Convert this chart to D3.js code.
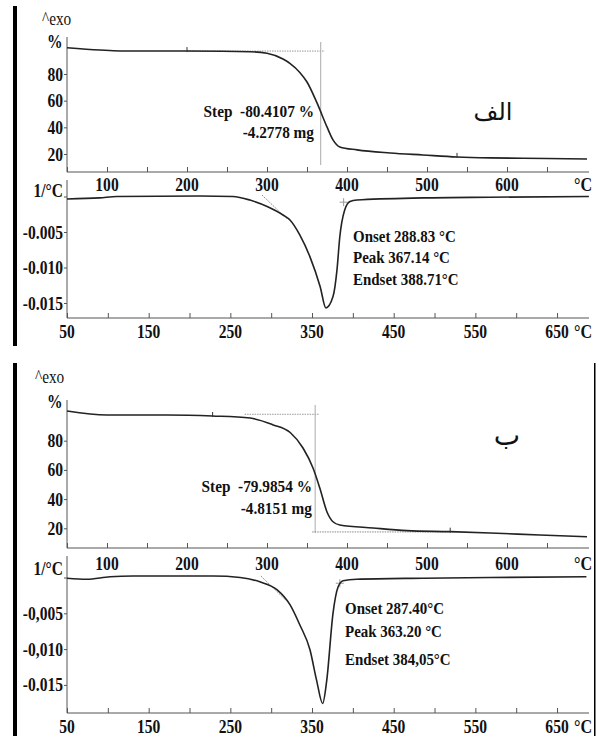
<!DOCTYPE html>
<html>
<head>
<meta charset="utf-8">
<script src="https://cdn.jsdelivr.net/npm/d3@7"></script>
<style>
  body { margin: 0; background: #fff; }
  svg { display: block; }
  text { font-family: "Liberation Serif", "Times New Roman", serif; fill: #111; white-space: pre; }
</style>
</head>
<body>
<div id="chart"></div>
<script>
// ---- data ----
// TGA curve, sample الف : temperature (°C) / mass (%)
var tgaTempA = [50, 91, 116, 200, 279, 300, 320, 329, 341, 350, 362.5, 375, 382.5, 391, 412.5, 454, 495, 537.5, 579, 620, 700];
var tgaMassA = [99.7, 98, 97.3, 97.2, 96.7, 95.5, 91.2, 87.8, 81.2, 74.0, 58.3, 40.3, 30.6, 25.3, 23.1, 20.8, 19.3, 17.8, 17.1, 16.8, 16.3];
// DTG curve, sample الف : temperature / 1/°C
var dtgTempA = [50, 90, 111, 213, 253, 274, 295, 314.5, 323, 335, 347.5, 360, 367, 375.7, 380.6, 384, 390, 396.5, 405, 486, 568, 689];
var dtgValA  = [-0.00035, -0.0002, 0, 0.00007, 0, -0.0005, -0.0014, -0.0026, -0.0033, -0.0054, -0.0085, -0.0127, -0.0157, -0.0141, -0.0103, -0.0057, -0.0019, -0.0007, -0.0005, -0.0002, -0.0001, 0];

// TGA curve, sample ب
var tgaTempB = [50, 99.6, 175, 232, 279, 307, 329, 345, 357.5, 366, 375, 382.5, 391, 432.5, 475, 529, 579, 641, 700];
var tgaMassB = [100.3, 97.6, 97.6, 96.9, 95.5, 91.0, 85.6, 75, 61.3, 47.6, 31.2, 24.5, 22.3, 20.2, 18.4, 17.7, 16.8, 15.4, 14.2];
// DTG curve, sample ب
var dtgTempB = [50, 74, 102.6, 131, 229, 262, 286, 307, 323, 335, 347.5, 355.7, 363, 368, 375.7, 382, 388, 404.7, 486, 568, 686];
var dtgValB  = [-0.0001, -0.00025, 0.0001, 0.0002, 0.0002, 0, -0.0006, -0.0017, -0.0038, -0.0066, -0.0101, -0.0144, -0.0176, -0.0144, -0.0050, -0.0013, -0.00045, -0.00025, -0.0001, 0, 0.0001];

// tick labels
var tgaXTicks = [100, 200, 300, 400, 500, 600];
var dtgXTicks = [50, 150, 250, 350, 450, 550, 650];
var tgaYTicks = [20, 40, 60, 80];
var dtgYTicks = [-0.005, -0.010, -0.015];
var dtgYLabelsA = ["-0.005", "-0.010", "-0.015"];
var dtgYLabelsB = ["-0,005", "-0,010", "-0.015"];

// annotations
var stepTextA = ["Step  -80.4107 %", "-4.2778 mg"];
var stepTextB = ["Step  -79.9854 %", "-4.8151 mg"];
var peakTextA = ["Onset 288.83 °C", "Peak 367.14 °C", "Endset 388.71°C"];
var peakTextB = ["Onset 287.40°C", "Peak 363.20 °C", "Endset 384,05°C"];
var onsetA = 288.83, peakA = 367.14, endsetA = 388.71;
var onsetB = 287.40, peakB = 363.20, endsetB = 384.05;
var stepLevelA = [97.2, 16.3], stepLevelB = [98.1, 17.5];

var W = 599, H = 738;
var svg = d3.select("#chart").append("svg").attr("width", W).attr("height", H);

function label(g, x, y, str, anchor, size, sx, weight) {
	return g.append("text")
		.attr("transform", "translate(" + x + "," + y + ") scale(" + (sx || 1) + ",1)")
		.attr("text-anchor", anchor || "middle")
		.attr("xml:space", "preserve")
		.style("font-size", (size || 18) + "px")
		.style("font-weight", weight || "bold")
		.text(str);
}

function drawFigure(c) {
	var g = svg.append("g");

	// thick black bar on the left of the figure
	g.append("rect").attr("x", 13).attr("y", c.barTop).attr("width", 4).attr("height", c.barBottom - c.barTop).attr("fill", "#000");
	if (c.border) {
		g.append("rect").attr("x", c.border).attr("y", c.barTop).attr("width", 1.5).attr("height", c.barBottom - c.barTop).attr("fill", "#000");
	}

	var xT = d3.scaleLinear().domain([50, 700]).range([67, 587]);
	var xD = d3.scaleLinear().domain([50, 690]).range([67, 589.7]);
	var yT = d3.scaleLinear().domain([20, 80]).range([c.tga.y20, c.tga.y80]);
	var yD = d3.scaleLinear().domain([0, -0.005]).range([c.dtg.y0, c.dtg.y005]);

	// ---- TGA panel ----
	g.append("line").attr("x1", 67).attr("x2", 67).attr("y1", c.tga.top).attr("y2", c.tga.axisY).attr("stroke", "#555");
	g.append("line").attr("x1", 67).attr("x2", 589).attr("y1", c.tga.axisY).attr("y2", c.tga.axisY).attr("stroke", "#555");

	var tgaAxis = g.append("g").attr("transform", "translate(0," + c.tga.axisY + ")");
	tgaAxis.call(d3.axisTop(xT).tickValues(d3.range(50, 691, 10)).tickSize(3).tickFormat(""));
	tgaAxis.call(d3.axisTop(xT).tickValues(d3.range(50, 691, 50)).tickSize(5).tickFormat(""));
	tgaAxis.select(".domain").remove();
	tgaAxis.selectAll("line").attr("stroke", "#555");

	var tgaY = g.append("g").attr("transform", "translate(67,0)");
	tgaY.call(d3.axisLeft(yT).tickValues(tgaYTicks).tickSize(3).tickFormat(""));
	tgaY.select(".domain").remove();
	tgaY.selectAll("line").attr("stroke", "#555");

	tgaYTicks.forEach(function (v) { label(g, 63, yT(v) + 6.5, String(v), "end", 19, 0.82); });
	tgaXTicks.forEach(function (v) { label(g, xT(v), c.tga.labelY, String(v), "middle", 19, 0.82); });
	label(g, 583, c.tga.labelY, "°C", "middle", 19, 0.85);
	label(g, c.exo[0], c.exo[1], "^exo", "start", 18, 0.85, "normal");
	label(g, c.pct[0], c.pct[1], "%", "start", 19, 0.82);

	// step evaluation guides
	g.append("line").attr("x1", xT(c.stepFrom)).attr("x2", xT(c.stepAt) + 4)
		.attr("y1", yT(c.stepLevel[0])).attr("y2", yT(c.stepLevel[0]))
		.attr("stroke", "#999").attr("stroke-dasharray", "1.5,1");
	g.append("line").attr("x1", xT(c.stepAt)).attr("x2", xT(c.stepAt))
		.attr("y1", c.tga.top + 5).attr("y2", c.stepBottomY)
		.attr("stroke", "#aaa");
	if (c.stepLow) {
		g.append("line").attr("x1", xT(c.stepAt) - 3).attr("x2", xT(c.stepLow))
			.attr("y1", yT(c.stepLevel[1])).attr("y2", yT(c.stepLevel[1]))
			.attr("stroke", "#888").attr("stroke-dasharray", "1.5,1");
	}

	var tgaLine = d3.line().x(function (d) { return xT(d[0]); }).y(function (d) { return yT(d[1]); }).curve(d3.curveMonotoneX);
	g.append("path").datum(d3.zip(c.tgaTemp, c.tgaMass)).attr("d", tgaLine)
		.attr("fill", "none").attr("stroke", "#222").attr("stroke-width", 1.6);

	c.tgaMarks.forEach(function (t) {
		var i = d3.bisectLeft(c.tgaTemp, t);
		var m = c.tgaMass[Math.min(i, c.tgaMass.length - 1)];
		g.append("line").attr("x1", xT(t)).attr("x2", xT(t)).attr("y1", yT(m) - 4).attr("y2", yT(m) + 1).attr("stroke", "#333");
	});

	label(g, c.stepX, c.stepY[0], c.stepText[0], "end", 17, 0.9);
	label(g, c.stepX, c.stepY[1], c.stepText[1], "end", 17, 0.9);

	// ---- DTG panel ----
	g.append("line").attr("x1", 67).attr("x2", 67).attr("y1", c.dtg.top).attr("y2", c.dtg.axisY).attr("stroke", "#555");
	g.append("line").attr("x1", 67).attr("x2", 589).attr("y1", c.dtg.axisY).attr("y2", c.dtg.axisY).attr("stroke", "#555");

	var dtgAxis = g.append("g").attr("transform", "translate(0," + c.dtg.axisY + ")");
	dtgAxis.call(d3.axisTop(xD).tickValues(d3.range(50, 690, 50 / 3)).tickSize(3).tickFormat(""));
	dtgAxis.call(d3.axisTop(xD).tickValues(d3.range(50, 690, 50)).tickSize(5).tickFormat(""));
	dtgAxis.select(".domain").remove();
	dtgAxis.selectAll("line").attr("stroke", "#555");

	var dtgY = g.append("g").attr("transform", "translate(67,0)");
	dtgY.call(d3.axisLeft(yD).tickValues([0].concat(dtgYTicks)).tickSize(3).tickFormat(""));
	dtgY.select(".domain").remove();
	dtgY.selectAll("line").attr("stroke", "#555");

	dtgYTicks.forEach(function (v, i) { label(g, 63, yD(v) + 6.5, c.dtgYLabels[i], "end", 19, 0.82); });
	dtgXTicks.forEach(function (v) { label(g, xD(v), c.dtg.labelY, String(v), "middle", 19, 0.82); });
	label(g, 583, c.dtg.labelY, "°C", "middle", 19, 0.85);
	label(g, 63, c.dtg.unitY, "1/°C", "end", 19, 0.82);

	// onset tangent and endset mark
	g.append("line").attr("x1", xD(c.onset)).attr("y1", yD(0.0002))
		.attr("x2", xD(c.onset + 30)).attr("y2", yD(-0.0031))
		.attr("stroke", "#888").attr("stroke-dasharray", "1.5,1");
	var ex = xD(c.endset), ey = yD(-0.0008);
	g.append("path").attr("d", "M" + (ex - 4) + "," + ey + "H" + (ex + 4) + "M" + ex + "," + (ey - 4) + "V" + (ey + 4))
		.attr("stroke", "#999").attr("fill", "none");

	var dtgLine = d3.line().x(function (d) { return xD(d[0]); }).y(function (d) { return yD(d[1]); }).curve(d3.curveMonotoneX);
	g.append("path").datum(d3.zip(c.dtgTemp, c.dtgVal)).attr("d", dtgLine)
		.attr("fill", "none").attr("stroke", "#222").attr("stroke-width", 1.6);

	label(g, c.peakX, c.peakY[0], c.peakText[0], "start", 17, 0.88);
	label(g, c.peakX, c.peakY[1], c.peakText[1], "start", 17, 0.88);
	label(g, c.peakX, c.peakY[2], c.peakText[2], "start", 17, 0.88);

	// sample letter
	g.append("text").attr("x", c.name[1]).attr("y", c.name[2]).attr("text-anchor", "middle")
		.style("font-family", "'DejaVu Sans', sans-serif").style("font-size", c.name[3] + "px")
		.text(c.name[0]);
}

drawFigure({
	barTop: 6, barBottom: 346, border: null,
	exo: [42, 25], pct: [47, 48],
	tga: { top: 37, axisY: 172, y80: 74, y20: 154, labelY: 191 },
	dtg: { top: 180, axisY: 318, y0: 196.5, y005: 232, labelY: 338, unitY: 197 },
	tgaTemp: tgaTempA, tgaMass: tgaMassA, dtgTemp: dtgTempA, dtgVal: dtgValA,
	tgaMarks: [200, 537.5],
	dtgYLabels: dtgYLabelsA,
	stepText: stepTextA, stepX: 314, stepY: [117, 138],
	stepFrom: 200, stepAt: peakA, stepLevel: stepLevelA, stepBottomY: 165, stepLow: null,
	peakText: peakTextA, peakX: 353, peakY: [242, 263, 285],
	onset: onsetA, endset: endsetA,
	name: ["الف", 493, 120, 24]
});

drawFigure({
	barTop: 363, barBottom: 736, border: 594,
	exo: [35, 383], pct: [47, 408],
	tga: { top: 400, axisY: 548, y80: 440.7, y20: 528.3, labelY: 570 },
	dtg: { top: 556, axisY: 713, y0: 577.5, y005: 613.3, labelY: 733, unitY: 575 },
	tgaTemp: tgaTempB, tgaMass: tgaMassB, dtgTemp: dtgTempB, dtgVal: dtgValB,
	tgaMarks: [232, 529],
	dtgYLabels: dtgYLabelsB,
	stepText: stepTextB, stepX: 312, stepY: [492, 514],
	stepFrom: 272, stepAt: peakB - 3, stepLevel: stepLevelB, stepBottomY: 533, stepLow: 535,
	peakText: peakTextB, peakX: 345, peakY: [614, 637, 665],
	onset: onsetB, endset: endsetB,
	name: ["ب", 507, 445, 28]
});
</script>
</body>
</html>
